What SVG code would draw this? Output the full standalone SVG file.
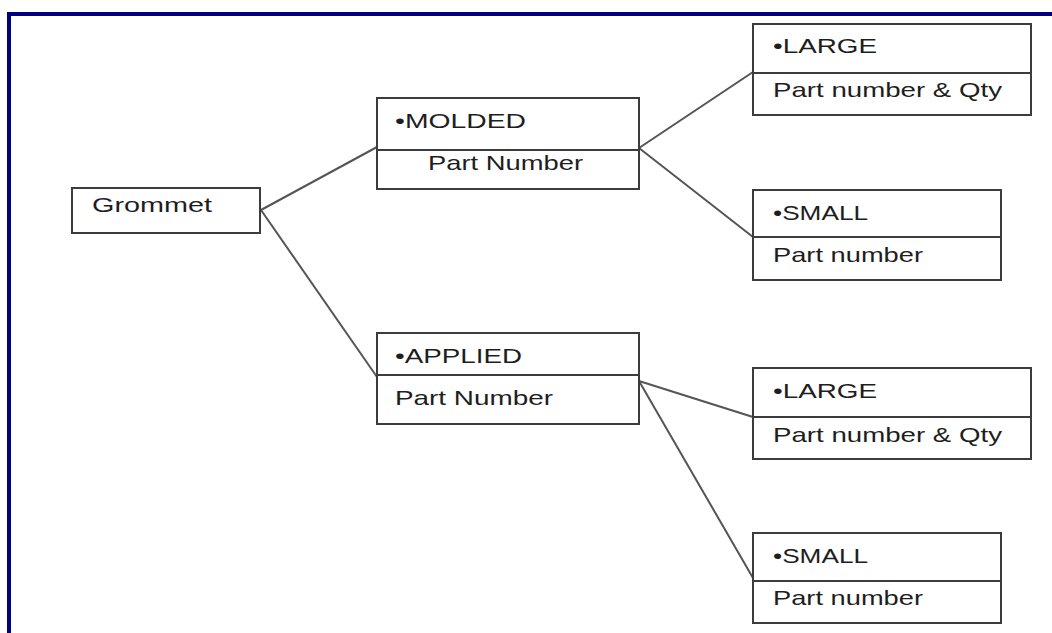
<svg xmlns="http://www.w3.org/2000/svg" width="1052" height="633" viewBox="0 0 1052 633">
<style>
.box{fill:#fff;stroke:#3c3c3c;stroke-width:2}
.div{stroke:#3c3c3c;stroke-width:2}
.conn{stroke:#555;stroke-width:2;fill:none}
text{font-family:"Liberation Sans",Arial,sans-serif;font-size:21px;fill:#1e1e1e}
</style>
<rect width="1052" height="633" fill="#fff"/>
<path d="M9,633 V14 H1052" fill="none" stroke="#000080" stroke-width="4"/>
<g id="connectors">
<line class="conn" x1="261" y1="210" x2="377" y2="147"/>
<line class="conn" x1="261" y1="210" x2="377" y2="377"/>
<line class="conn" x1="639" y1="148" x2="753" y2="72"/>
<line class="conn" x1="639" y1="148" x2="753" y2="237"/>
<line class="conn" x1="639" y1="381" x2="753" y2="417"/>
<line class="conn" x1="639" y1="381" x2="753" y2="578"/>
</g>
<g id="grommet">
<rect class="box" x="72" y="188" width="188" height="45"/>
<text x="92" y="212" textLength="120" lengthAdjust="spacingAndGlyphs">Grommet</text>
</g>
<g id="molded">
<rect class="box" x="377" y="98" width="262" height="91"/>
<line class="div" x1="377" y1="150" x2="639" y2="150"/>
<text x="395" y="128" textLength="131" lengthAdjust="spacingAndGlyphs">•MOLDED</text>
<text x="428" y="170" textLength="155" lengthAdjust="spacingAndGlyphs">Part Number</text>
</g>
<g id="applied">
<rect class="box" x="377" y="333" width="262" height="91"/>
<line class="div" x1="377" y1="375" x2="639" y2="375"/>
<text x="395" y="363" textLength="127" lengthAdjust="spacingAndGlyphs">•APPLIED</text>
<text x="395" y="405" textLength="158" lengthAdjust="spacingAndGlyphs">Part Number</text>
</g>
<g id="large-molded">
<rect class="box" x="753" y="24" width="278" height="91"/>
<line class="div" x1="753" y1="73" x2="1031" y2="73"/>
<text x="773" y="53" textLength="104" lengthAdjust="spacingAndGlyphs">•LARGE</text>
<text x="773" y="97" textLength="229" lengthAdjust="spacingAndGlyphs">Part number &amp; Qty</text>
</g>
<g id="small-molded">
<rect class="box" x="753" y="190" width="248" height="90"/>
<line class="div" x1="753" y1="237" x2="1001" y2="237"/>
<text x="773" y="220" textLength="95" lengthAdjust="spacingAndGlyphs">•SMALL</text>
<text x="773" y="262" textLength="150" lengthAdjust="spacingAndGlyphs">Part number</text>
</g>
<g id="large-applied">
<rect class="box" x="753" y="368" width="278" height="91"/>
<line class="div" x1="753" y1="417" x2="1031" y2="417"/>
<text x="773" y="398" textLength="104" lengthAdjust="spacingAndGlyphs">•LARGE</text>
<text x="773" y="442" textLength="229" lengthAdjust="spacingAndGlyphs">Part number &amp; Qty</text>
</g>
<g id="small-applied">
<rect class="box" x="753" y="533" width="248" height="90"/>
<line class="div" x1="753" y1="581" x2="1001" y2="581"/>
<text x="773" y="563" textLength="95" lengthAdjust="spacingAndGlyphs">•SMALL</text>
<text x="773" y="605" textLength="150" lengthAdjust="spacingAndGlyphs">Part number</text>
</g>
</svg>
